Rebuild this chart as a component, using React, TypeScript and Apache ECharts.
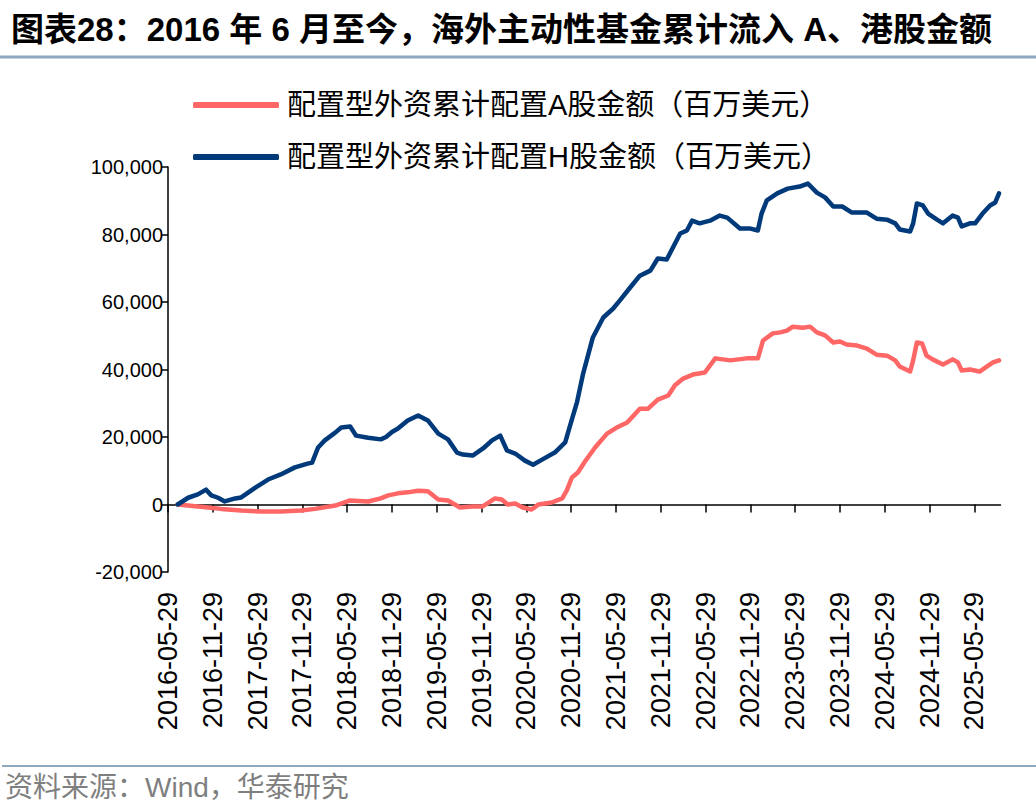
import React, { useEffect, useRef } from "react";
import * as echarts from "echarts";

// x positions are months elapsed since 2016-05-29
const aMonths = [1.3, 4.0, 5.4, 7.1, 9.8, 12.5, 15.1, 17.8, 19.7, 22.4, 24.4, 26.8, 28.5, 29.5, 30.8, 32.1, 33.5, 34.8, 36.2, 37.5, 39.1, 40.7, 42.1, 43.8, 44.7, 45.5, 46.5, 47.5, 48.7, 49.6, 51.4, 52.8, 53.4, 54.1, 54.9, 55.8, 57.2, 58.8, 60.1, 61.5, 63.2, 64.3, 65.6, 67.0, 67.9, 69.0, 70.3, 71.9, 73.3, 75.3, 77.5, 79.0, 79.7, 81.0, 82.0, 82.9, 83.7, 85.0, 86.0, 86.9, 88.0, 89.1, 90.0, 90.9, 92.3, 93.6, 94.9, 96.3, 97.4, 98.0, 99.4, 99.8, 100.3, 101.0, 101.6, 102.4, 103.8, 105.1, 105.8, 106.3, 107.4, 108.7, 109.7, 110.5, 111.3];
const aValues = [0, -600, -900, -1300, -1800, -2100, -2100, -1800, -1300, -300, 1200, 900, 1800, 2700, 3300, 3600, 4100, 3900, 1500, 1200, -900, -600, -600, 1800, 1500, 0, 300, -900, -1500, 0, 600, 1800, 4100, 8000, 9500, 12600, 16900, 21000, 22800, 24300, 28400, 28400, 31100, 32300, 35300, 37300, 38500, 39100, 43300, 42700, 43300, 43300, 48600, 50700, 51000, 51500, 52700, 52400, 52700, 51000, 50100, 48000, 48300, 47400, 47100, 46200, 44400, 44100, 42700, 40900, 39400, 42700, 48000, 47700, 44100, 43000, 41500, 43000, 42100, 39700, 40000, 39400, 40900, 42100, 42700];

const hMonths = [1.3, 2.7, 4.0, 5.1, 5.8, 6.7, 7.6, 9.0, 9.8, 11.7, 13.4, 15.1, 17.0, 18.7, 19.3, 20.1, 21.0, 22.4, 23.2, 24.4, 25.2, 26.8, 28.5, 29.2, 30.0, 30.8, 32.1, 33.5, 34.8, 36.2, 37.5, 38.7, 39.5, 40.8, 42.2, 43.4, 44.5, 45.4, 46.5, 47.8, 48.9, 50.1, 51.8, 53.2, 53.8, 54.8, 55.6, 56.9, 58.3, 59.6, 60.5, 61.9, 63.2, 64.6, 65.6, 66.8, 68.6, 69.5, 70.2, 71.2, 72.6, 73.9, 74.9, 76.6, 77.9, 79.0, 79.5, 80.2, 81.6, 83.0, 84.6, 85.7, 86.9, 88.0, 89.1, 90.3, 91.6, 93.6, 94.9, 96.3, 97.4, 98.0, 99.4, 99.8, 100.3, 101.1, 101.8, 103.0, 103.8, 105.1, 105.8, 106.3, 107.4, 108.1, 109.1, 110.1, 110.8, 111.3];
const hValues = [0, 2000, 3000, 4400, 2700, 2000, 900, 1800, 2100, 5000, 7400, 8900, 11000, 12100, 12400, 16900, 19000, 21300, 22800, 23100, 20400, 19800, 19300, 20000, 21500, 22500, 24900, 26400, 24900, 21000, 19300, 15400, 14800, 14500, 16600, 19000, 20400, 16000, 15100, 13000, 11800, 13300, 15400, 18400, 23000, 30500, 38800, 49500, 55400, 58000, 60400, 64300, 67800, 69300, 72900, 72600, 80300, 81200, 84100, 83300, 84100, 85600, 85000, 81800, 81800, 81200, 86200, 90100, 92200, 93600, 94200, 95100, 92400, 91000, 88300, 88300, 86500, 86500, 84700, 84400, 83300, 81500, 80900, 83300, 89200, 88600, 86200, 84400, 83300, 85600, 85000, 82400, 83300, 83300, 86200, 88600, 89500, 92200];

const xTickLabels = ["2016-05-29", "2016-11-29", "2017-05-29", "2017-11-29", "2018-05-29", "2018-11-29", "2019-05-29", "2019-11-29", "2020-05-29", "2020-11-29", "2021-05-29", "2021-11-29", "2022-05-29", "2022-11-29", "2023-05-29", "2023-11-29", "2024-05-29", "2024-11-29", "2025-05-29"];
const xTickMonths = xTickLabels.map((_, i) => i * 6);

const seriesNames = ["配置型外资累计配置A股金额（百万美元）", "配置型外资累计配置H股金额（百万美元）"];
const titleText = "图表28：2016 年 6 月至今，海外主动性基金累计流入 A、港股金额";
const sourceText = "资料来源：Wind，华泰研究";

const FONT = "Arial, 'Liberation Sans', 'Noto Sans CJK SC', sans-serif";

export default function App() {
  const ref = useRef<HTMLDivElement>(null);
  useEffect(() => {
    if (!ref.current) return;
    const chart = echarts.init(ref.current, null, { renderer: "svg" });
    const pairs = (xs: number[], ys: number[]) => xs.map((x, i) => [x, ys[i]]);
    chart.setOption({
      animation: false,
      backgroundColor: "#ffffff",
      title: {
        text: titleText,
        left: 6,
        top: 8,
        textStyle: { fontSize: 33, fontWeight: "bold", color: "#000", fontFamily: FONT },
      },
      graphic: [
        { type: "line", shape: { x1: 0, y1: 57, x2: 1036, y2: 57 }, style: { stroke: "#8EA8C0", lineWidth: 3 } },
        { type: "line", shape: { x1: 2, y1: 766, x2: 1036, y2: 766 }, style: { stroke: "#8EA8C0", lineWidth: 2 } },
        {
          type: "text",
          left: 5,
          top: 773,
          style: { text: sourceText, fontSize: 28, fill: "#7F7F7F", fontFamily: FONT },
        },
      ],
      legend: {
        orient: "vertical",
        left: 188,
        top: 85,
        itemWidth: 86,
        itemHeight: 6,
        itemGap: 22,
        icon: "roundRect",
        data: seriesNames,
        textStyle: { fontSize: 29, lineHeight: 30, color: "#000", fontFamily: FONT, padding: [0, 0, 0, 3] },
      },
      grid: { left: 168, top: 167, right: 35.5, bottom: 238 },
      xAxis: [
        {
          type: "value",
          position: "top",
          min: 0,
          max: 111.5,
          interval: 6,
          axisLine: { onZero: true, lineStyle: { color: "#000", width: 1.5 } },
          axisTick: { show: true, inside: true, length: 8, customValues: xTickMonths, lineStyle: { color: "#000", width: 1.5 } },
          axisLabel: { show: false },
          splitLine: { show: false },
        },
        {
          type: "value",
          position: "bottom",
          min: 0,
          max: 111.5,
          interval: 6,
          axisLine: { show: false, onZero: false },
          axisTick: { show: false },
          splitLine: { show: false },
          axisLabel: {
            show: true,
            rotate: 90,
            margin: 20,
            fontSize: 27,
            color: "#000",
            fontFamily: FONT,
            customValues: xTickMonths,
            formatter: (v: number) => {
              const i = Math.round(v / 6);
              return Math.abs(v - i * 6) < 1e-6 && xTickLabels[i] ? xTickLabels[i] : "";
            },
          },
        },
      ],
      yAxis: {
        type: "value",
        min: -20000,
        max: 100000,
        interval: 20000,
        axisLine: { show: true, lineStyle: { color: "#000", width: 1.5 } },
        axisTick: { show: true, length: 6, lineStyle: { color: "#000", width: 1.5 } },
        axisLabel: {
          margin: 5,
          fontSize: 20,
          color: "#000",
          fontFamily: FONT,
          formatter: (v: number) => v.toLocaleString("en-US"),
        },
        splitLine: { show: false },
      },
      series: [
        {
          name: seriesNames[0],
          type: "line",
          xAxisIndex: 0,
          data: pairs(aMonths, aValues),
          showSymbol: false,
          color: "#FF6666",
          lineStyle: { width: 4.5, color: "#FF6666", join: "round", cap: "round" },
        },
        {
          name: seriesNames[1],
          type: "line",
          xAxisIndex: 0,
          data: pairs(hMonths, hValues),
          showSymbol: false,
          color: "#003A7A",
          lineStyle: { width: 4.5, color: "#003A7A", join: "round", cap: "round" },
        },
      ],
    });
    return () => chart.dispose();
  }, []);
  return <div ref={ref} style={{ position: "fixed", left: 0, top: 0, width: 1036, height: 810 }} />;
}
